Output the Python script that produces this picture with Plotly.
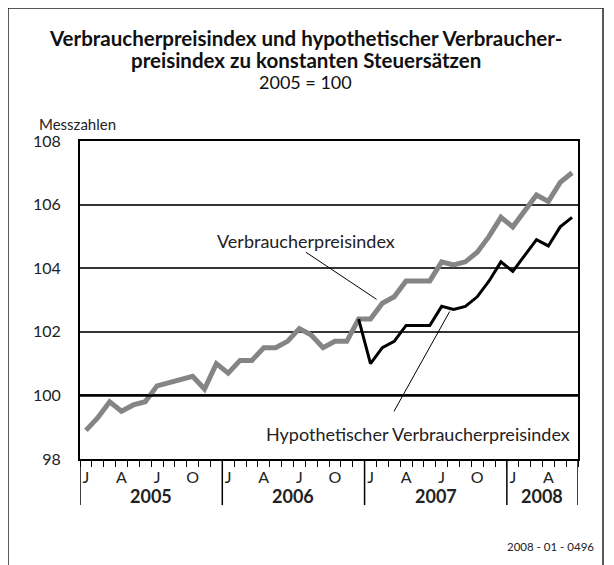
import plotly.graph_objects as go

# monthly values, Jan 2005 - Jun 2008
years = [2005, 2006, 2007, 2008]
months_per_year = [12, 12, 12, 6]
month_letters = ["J", "A", "J", "O"]  # Jan, Apr, Jul, Oct

vpi = [98.9, 99.3, 99.8, 99.5, 99.7, 99.8, 100.3, 100.4, 100.5, 100.6, 100.2, 101.0,
       100.7, 101.1, 101.1, 101.5, 101.5, 101.7, 102.1, 101.9, 101.5, 101.7, 101.7, 102.4,
       102.4, 102.9, 103.1, 103.6, 103.6, 103.6, 104.2, 104.1, 104.2, 104.5, 105.0, 105.6,
       105.3, 105.8, 106.3, 106.1, 106.7, 107.0]

# hypothetical index from Dec 2006
hyp_start = 23
hyp = [102.4,
       101.0, 101.5, 101.7, 102.2, 102.2, 102.2, 102.8, 102.7, 102.8, 103.1, 103.6, 104.2,
       103.9, 104.4, 104.9, 104.7, 105.3, 105.6]

yticks = [98, 100, 102, 104, 106, 108]

FONT = "Lato"

n = len(vpi)
x_all = list(range(n))
x_hyp = list(range(hyp_start, hyp_start + len(hyp)))

fig = go.Figure()

fig.add_trace(go.Scatter(x=x_all, y=vpi, mode="lines",
                         line=dict(color="#858585", width=5)))
fig.add_trace(go.Scatter(x=x_hyp, y=hyp, mode="lines",
                         line=dict(color="black", width=3)))

# month labels J A J O
tickvals = []
ticktext = []
start = 0
for y, m in zip(years, months_per_year):
    for k, letter in enumerate(month_letters):
        if k * 3 < m:
            tickvals.append(start + k * 3)
            ticktext.append(letter)
    start += m

fig.update_xaxes(range=[-0.5, n - 0.5], tickmode="array", tickvals=tickvals,
                 ticktext=ticktext, ticks="", showgrid=False, zeroline=False,
                 showline=True, linecolor="black", linewidth=2, mirror=True,
                 ticklabelstandoff=3,
                 tickfont=dict(family=FONT, size=16, color="#222"),
                 minor=dict(ticks="outside", ticklen=6, tickwidth=1, tickcolor="black",
                            tickmode="linear", tick0=-0.5, dtick=1, showgrid=False))
fig.update_yaxes(range=[98, 108], tickvals=yticks, showgrid=True, gridcolor="#333",
                 gridwidth=1.5, zeroline=False, showline=True, linecolor="black",
                 linewidth=2, mirror=True, ticks="", ticklabelstandoff=14,
                 tickfont=dict(family=FONT, size=16, color="#222"))

# thicker 100 line
fig.add_shape(type="line", xref="paper", yref="y", x0=0, x1=1, y0=100, y1=100,
              line=dict(color="black", width=2.5))

# year separators and year labels
start = 0
for y, m in zip(years, months_per_year):
    fig.add_shape(type="line", xref="x", yref="paper", x0=start - 0.5, x1=start - 0.5,
                  y0=-0.145, y1=0, line=dict(color="black", width=1.5))
    fig.add_annotation(x=start + (m - 1) / 2, y=-0.115, xref="x", yref="paper",
                       xanchor="center", yanchor="middle",
                       text="<b>%d</b>" % y, showarrow=False,
                       font=dict(family=FONT, size=18, color="#222"))
    start += m
fig.add_shape(type="line", xref="x", yref="paper", x0=start - 0.5, x1=start - 0.5,
              y0=-0.145, y1=0, line=dict(color="black", width=1.5))

# series labels with pointer lines
fig.add_annotation(x=0.454, y=0.686, xref="paper", yref="paper",
                   xanchor="center", yanchor="middle",
                   text="Verbraucherpreisindex", showarrow=False,
                   font=dict(family=FONT, size=18, color="#222"))
fig.add_annotation(x=25, y=vpi[25], xref="x", yref="y", text="", showarrow=True,
                   arrowhead=0, arrowwidth=1, arrowcolor="black", standoff=7,
                   ax=-78, ay=-52)
fig.add_annotation(x=0.679, y=0.078, xref="paper", yref="paper",
                   xanchor="center", yanchor="middle",
                   text="Hypothetischer Verbraucherpreisindex", showarrow=False,
                   font=dict(family=FONT, size=18, color="#222"))
fig.add_annotation(x=30.8, y=102.72, xref="x", yref="y", text="", showarrow=True,
                   arrowhead=0, arrowwidth=1, arrowcolor="black", standoff=3,
                   ax=-58, ay=104)

# titles
title_lines = [
    ("<b>Verbraucherpreisindex und hypothetischer Verbraucher-</b>", 103, 20.5),
    ("<b>preisindex zu konstanten Steuersätzen</b>", 81, 20.5),
    ("2005 = 100", 59, 18),
]
for text, shift, size in title_lines:
    fig.add_annotation(x=0.4538, y=1.0, xref="paper", yref="paper", yshift=shift,
                       xanchor="center", yanchor="middle", text=text,
                       showarrow=False, font=dict(family=FONT, size=size, color="#111"))

fig.add_annotation(x=-0.0867, y=1.0, xref="paper", yref="paper", yshift=17,
                   xanchor="left", yanchor="middle", text="Messzahlen", showarrow=False,
                   font=dict(family=FONT, size=15, color="#222"))
fig.add_annotation(x=1.036, y=-0.276, xref="paper", yref="paper",
                   xanchor="right", yanchor="middle",
                   text="2008 - 01 - 0496", showarrow=False,
                   font=dict(family=FONT, size=11.5, color="#222"))

# outer frame
fig.add_shape(type="rect", xref="paper", yref="paper", x0=-0.1446, x1=1.0502,
              y0=-0.36, y1=1.418, line=dict(color="#222", width=1.5), layer="below")

fig.update_layout(width=614, height=565, showlegend=False,
                  margin=dict(l=72, r=44, t=133, b=114, autoexpand=False),
                  plot_bgcolor="white", paper_bgcolor="white",
                  font=dict(family=FONT))

fig.write_html("out.html")
